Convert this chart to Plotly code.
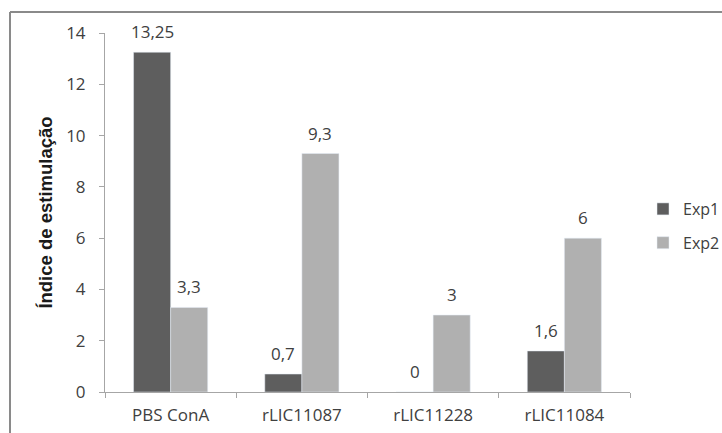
import plotly.graph_objects as go

categories = ["PBS ConA", "rLIC11087", "rLIC11228", "rLIC11084"]
exp1 = [13.25, 0.7, 0, 1.6]
exp2 = [3.3, 9.3, 3, 6]
y_ticks = [0, 2, 4, 6, 8, 10, 12, 14]


def label(v):
    return f"{v:g}".replace(".", ",")


FONT = "Open Sans"
TXT = "#404040"
BARGAP = 0.435

fig = go.Figure()
fig.add_trace(go.Bar(name="Exp1", x=categories, y=exp1,
                     marker_color="#5e5e5e", legendgroup="a"))
fig.add_trace(go.Bar(name="Exp2", x=categories, y=exp2,
                     marker_color="#b0b0b0", legendgroup="b"))

# value labels above each bar, placed at the centre of its slot in the group
half = (1 - BARGAP) / 4
annotations = []
for series, off in ((exp1, -half), (exp2, half)):
    for i, v in enumerate(series):
        annotations.append(dict(
            x=i + off, y=v, xref="x", yref="y", text=label(v),
            showarrow=False, yanchor="bottom", yshift=7,
            font=dict(family=FONT, size=17, color=TXT),
        ))

W, H = 722, 433
L, R, T, B = 105, 92, 33, 41
pw, ph = W - L - R, H - T - B


def px(x):
    return (x - L) / pw


def py(y):
    return (H - B - y) / ph


fig.update_layout(
    width=W, height=H,
    margin=dict(l=L, r=R, t=T, b=B, autoexpand=False),
    paper_bgcolor="white", plot_bgcolor="white",
    barmode="group", bargap=BARGAP, bargroupgap=0,
    font=dict(family=FONT, size=16, color=TXT),
    showlegend=True,
    legend=dict(
        x=px(643), y=py(226), xanchor="left", yanchor="middle",
        font=dict(family=FONT, size=16, color=TXT),
        traceorder="grouped", tracegroupgap=10, itemwidth=30,
        bgcolor="rgba(0,0,0,0)",
    ),
    xaxis=dict(
        showline=True, linecolor="#a6a6a6", linewidth=1,
        ticks="outside", tickson="boundaries", ticklen=5, tickcolor="#a6a6a6",
        tickfont=dict(family=FONT, size=17, color=TXT),
        ticklabelstandoff=8, automargin=False,
        showgrid=False,
    ),
    yaxis=dict(
        range=[0, 14], tickvals=y_ticks,
        showline=True, linecolor="#a6a6a6", linewidth=1,
        ticks="outside", ticklen=5, tickcolor="#a6a6a6",
        tickfont=dict(family=FONT, size=17, color=TXT),
        ticklabelstandoff=10, automargin=False,
        showgrid=False, zeroline=False,
        title=dict(text="<b>Índice de estimulação</b>",
                   font=dict(family="Liberation Sans", size=18.5, color="#1a1a1a"),
                   standoff=8),
    ),
    annotations=annotations,
    shapes=[
        dict(type="line", xref="paper", yref="paper",
             x0=px(10), x1=px(722), y0=py(12), y1=py(12),
             line=dict(color="#8a8a8a", width=2)),
        dict(type="line", xref="paper", yref="paper",
             x0=px(10), x1=px(10), y0=py(12), y1=py(433),
             line=dict(color="#8a8a8a", width=2)),
    ],
)

fig.write_html("out.html")
